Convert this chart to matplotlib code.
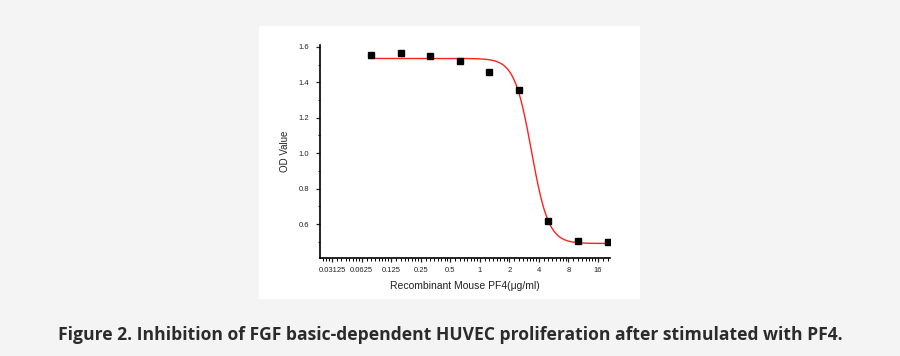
import numpy as np
import matplotlib.pyplot as plt
from matplotlib.ticker import FixedLocator, NullFormatter, MultipleLocator

# measured points
conc = [0.078125, 0.15625, 0.3125, 0.625, 1.25, 2.5, 5, 10, 20]
od = [1.556, 1.565, 1.550, 1.518, 1.461, 1.356, 0.617, 0.503, 0.496]
tick_vals = [0.03125, 0.0625, 0.125, 0.25, 0.5, 1, 2, 4, 8, 16]
tick_labels = ['0.03125', '0.0625', '0.125', '0.25', '0.5', '1', '2', '4', '8', '16']

# 4PL fit parameters
top, bottom, ec50, hill = 1.535, 0.49, 3.36, 5.0


def logistic(x):
    return bottom + (top - bottom) / (1 + (x / ec50) ** hill)


fig = plt.figure(figsize=(9, 3.56), dpi=100)
fig.patch.set_facecolor('#f4f4f4')
# white panel behind the chart
fig.add_artist(plt.Rectangle((259 / 900, 1 - 299 / 356), 381 / 900, 273 / 356,
                             transform=fig.transFigure, facecolor='white',
                             edgecolor='none', zorder=0))

ax = fig.add_axes([320 / 900, 1 - 258 / 356, 290 / 900, 213 / 356])
ax.set_facecolor('white')
ax.set_xscale('log', base=2)
ax.set_xlim(0.0236, 21.2)
ax.set_ylim(0.408, 1.611)

xs = np.logspace(np.log10(conc[0]), np.log10(conc[-1]), 400)
ax.plot(xs, logistic(xs), color='#ff2020', lw=1.0, zorder=2)
ax.plot(conc, od, 's', color='black', ms=4.2, zorder=3)

for s in ['top', 'right']:
    ax.spines[s].set_visible(False)
for s in ['left', 'bottom']:
    ax.spines[s].set_linewidth(1.2)

ax.xaxis.set_major_locator(FixedLocator(tick_vals))
ax.set_xticklabels(tick_labels)
minors = []
for v in [0.015625] + tick_vals:
    for f in np.arange(1.125, 2, 0.125):
        minors.append(v * f)
ax.xaxis.set_minor_locator(FixedLocator(minors))
ax.xaxis.set_minor_formatter(NullFormatter())

ax.yaxis.set_major_locator(FixedLocator([0.6, 0.8, 1.0, 1.2, 1.4, 1.6]))
ax.set_yticklabels(['0.6', '0.8', '1.0', '1.2', '1.4', '1.6'])
ax.yaxis.set_minor_locator(MultipleLocator(0.1))

ax.tick_params(which='major', length=3, width=0.9, labelsize=5.5, pad=3.5,
               colors='#222222')
ax.tick_params(axis='y', which='major', pad=5)
ax.tick_params(which='minor', length=1.8, width=0.7)
for lab in ax.get_xticklabels() + ax.get_yticklabels():
    lab.set_family('Liberation Sans')

ax.set_xlabel('Recombinant Mouse PF4(μg/ml)', fontsize=7.5, family='Liberation Sans',
              labelpad=5, color='#222222')
ax.set_ylabel('OD Value', fontsize=7, family='Liberation Sans', labelpad=6,
              color='#222222')

fig.text(0.5, 1 - 335 / 356,
         'Figure 2. Inhibition of FGF basic-dependent HUVEC proliferation after stimulated with PF4.',
         ha='center', va='center', fontsize=12.6, fontweight='bold',
         family='Open Sans', color='#2b2b2b')

fig.savefig('out.png', dpi=100, facecolor=fig.get_facecolor())
